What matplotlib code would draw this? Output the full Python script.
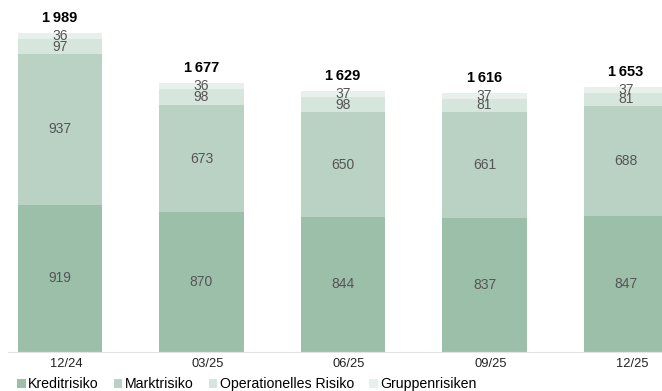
import matplotlib.pyplot as plt
import matplotlib.transforms as mtransforms
import numpy as np

plt.rcParams['font.family'] = ['Liberation Sans', 'DejaVu Sans']

quarters = ['12/24', '03/25', '06/25', '09/25', '12/25']
kredit = [919, 870, 844, 837, 847]
markt = [937, 673, 650, 661, 688]
operationell = [97, 98, 98, 81, 81]
gruppen = [36, 36, 37, 37, 37]
totals = [1989, 1677, 1629, 1616, 1653]

series = [kredit, markt, operationell, gruppen]
names = ['Kreditrisiko', 'Marktrisiko', 'Operationelles Risiko', 'Gruppenrisiken']
colors = ['#9cbfaa', '#b9d2c4', '#d6e6dc', '#e8f0eb']

fig = plt.figure(figsize=(6.62, 3.91), dpi=100)
ax = fig.add_axes([8 / 662, 39 / 391, 1 - 8 / 662, 352 / 391])

x = np.arange(len(quarters))
bottom = np.zeros(len(quarters))
handles = []
for vals, name, c in zip(series, names, colors):
    bars = ax.bar(x, vals, width=0.595, bottom=bottom, color=c, label=name)
    handles.append(bars)
    for xi, b, v in zip(x, bottom, vals):
        ax.text(xi, b + v / 2, str(v), ha='center', va='center',
                fontsize=10, color='#555555')
    bottom += np.array(vals)

for xi, t in zip(x, totals):
    s = f'{t:,}'.replace(',', '\u2009')
    ax.text(xi, t + 50, s, ha='center', va='bottom', fontsize=10.5,
            fontweight='bold', color='black')

ax.set_xlim(-0.367, 4.254)
ax.set_ylim(0, 2195)
ax.set_xticks(x)
ax.set_xticklabels(quarters, fontsize=9.3, color='#222222')
ax.tick_params(axis='x', length=0, pad=4)
shift = mtransforms.ScaledTranslation(6 / 100, 0, fig.dpi_scale_trans)
for lbl in ax.get_xticklabels():
    lbl.set_transform(lbl.get_transform() + shift)
ax.set_yticks([])
for s in ['top', 'right', 'left']:
    ax.spines[s].set_visible(False)
ax.spines['bottom'].set_color('#e4e4e4')

fig.legend(handles, names, loc='center left',
           bbox_to_anchor=(17 / 662, 7 / 391), borderaxespad=0, borderpad=0,
           ncol=4, frameon=False, fontsize=10.2,
           handlelength=0.6, handleheight=0.6, handletextpad=0.2,
           columnspacing=1.05)

fig.savefig('out.png', dpi=100)
